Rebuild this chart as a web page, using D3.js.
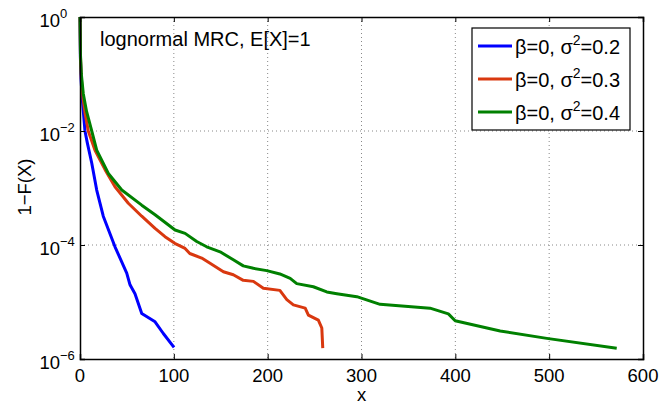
<!DOCTYPE html>
<html>
<head>
<meta charset="utf-8">
<script src="https://d3js.org/d3.v7.min.js"></script>
<style>
body { margin: 0; background: #fff; }
text { font-family: "Liberation Sans", Arial, Helvetica, sans-serif; }
</style>
</head>
<body>
<script>
// series: x and 1-F(x)
var blueX = [0, 0.4, 1.1, 2.5, 5.3, 7.8, 12.5, 17.8, 24.8, 37.3, 49.8, 53.3, 58.6, 65.8, 80, 88.8, 100.2];
var blueY = [1, 0.2, 0.08, 0.035, 0.01, 0.0062, 0.00275, 9.2e-4, 3.2e-4, 9.3e-5, 3.2e-5, 2.0e-5, 1.4e-5, 6.3e-6, 4.5e-6, 2.8e-6, 1.6e-6];

var redX = [0, 0.5, 1.3, 3, 5.5, 8.8, 16, 26.7, 37.3, 51.5, 65.8, 80, 90.6, 101, 112, 117, 129.7, 138.6, 152.8, 163.4, 174, 184.8, 195.4, 213, 220.4, 227.4, 240, 243.4, 254, 257.7, 258.7];
var redY = [1, 0.2, 0.09, 0.04, 0.02, 0.01, 4.6e-3, 2.1e-3, 1.05e-3, 5.4e-4, 3.2e-4, 1.96e-4, 1.4e-4, 1.07e-4, 8.7e-5, 7.1e-5, 5.9e-5, 4.8e-5, 3.4e-5, 3.0e-5, 2.4e-5, 2.3e-5, 1.75e-5, 1.6e-5, 1.1e-5, 8.9e-6, 7.8e-6, 5.9e-6, 4.8e-6, 3.5e-6, 1.55e-6];

var greenX = [0, 0.5, 1.4, 3.5, 7, 12.5, 17.8, 30.2, 44.5, 65.8, 80, 101.3, 112, 124.4, 135, 149.3, 163.4, 174, 184.8, 199, 213, 224, 231, 248.7, 263, 273.7, 295, 319.8, 373, 392.6, 399.8, 447.8, 497.5, 572];
var greenY = [1, 0.22, 0.1, 0.045, 0.022, 0.01, 4.6e-3, 1.8e-3, 9.2e-4, 5.0e-4, 3.4e-4, 1.83e-4, 1.6e-4, 1.15e-4, 9.3e-5, 7.6e-5, 5.5e-5, 4.3e-5, 3.9e-5, 3.55e-5, 3.1e-5, 2.6e-5, 2.1e-5, 1.85e-5, 1.5e-5, 1.4e-5, 1.24e-5, 9.1e-6, 7.8e-6, 6.2e-6, 4.7e-6, 3.1e-6, 2.3e-6, 1.55e-6];

var seriesNames = ["0.2", "0.3", "0.4"];
var seriesColors = ["#0000ff", "#d9380f", "#008000"];
var xTicks = [0, 100, 200, 300, 400, 500, 600];
var yTickExp = [0, -2, -4, -6];

var width = 660;
var height = 407;
var margin = {top: 17, right: 17, bottom: 48, left: 80};
var w = width - margin.left - margin.right;
var h = height - margin.top - margin.bottom;

var svg = d3.select("body")
	.append("svg")
	.attr("width", width)
	.attr("height", height);

var g = svg.append("g")
	.attr("transform", "translate(" + margin.left + "," + margin.top + ")");

var x = d3.scaleLinear().domain([0, 600]).range([0, w]);
var y = d3.scaleLog().domain([1e-6, 1]).range([h, 0]);

// dotted grid
g.selectAll(".gx")
	.data(xTicks.slice(1, -1))
	.enter().append("line")
	.attr("x1", d => x(d)).attr("x2", d => x(d))
	.attr("y1", 0).attr("y2", h)
	.attr("stroke", "#888")
	.attr("stroke-width", 1)
	.attr("stroke-dasharray", "1,3");

g.selectAll(".gy")
	.data(yTickExp.slice(1, -1))
	.enter().append("line")
	.attr("x1", 0).attr("x2", w)
	.attr("y1", d => y(Math.pow(10, d))).attr("y2", d => y(Math.pow(10, d)))
	.attr("stroke", "#888")
	.attr("stroke-width", 1)
	.attr("stroke-dasharray", "1,3");

// curves
var lineGen = d3.line()
	.x(d => x(d[0]))
	.y(d => y(d[1]));

var allSeries = [
	d3.zip(blueX, blueY),
	d3.zip(redX, redY),
	d3.zip(greenX, greenY)
];

allSeries.forEach(function (s, i) {
	g.append("path")
		.datum(s)
		.attr("d", lineGen)
		.attr("fill", "none")
		.attr("stroke", seriesColors[i])
		.attr("stroke-width", 3)
		.attr("stroke-linejoin", "round");
});

// axes with inward ticks, box all round
var yTickVals = yTickExp.map(e => Math.pow(10, e));

g.append("g")
	.attr("transform", "translate(0," + h + ")")
	.call(d3.axisBottom(x).tickValues(xTicks).tickSize(-5).tickFormat(""));
g.append("g")
	.call(d3.axisTop(x).tickValues(xTicks).tickSize(-5).tickFormat(""));
g.append("g")
	.call(d3.axisLeft(y).tickValues(yTickVals).tickSize(-5).tickFormat(""));
g.append("g")
	.attr("transform", "translate(" + w + ",0)")
	.call(d3.axisRight(y).tickValues(yTickVals).tickSize(-5).tickFormat(""));

g.selectAll(".domain").attr("stroke", "#000").attr("stroke-width", 1.5);
g.selectAll(".tick line").attr("stroke", "#000").attr("stroke-width", 1);

// tick labels
g.selectAll(".xl")
	.data(xTicks)
	.enter().append("text")
	.attr("x", d => x(d))
	.attr("y", h + 23)
	.attr("text-anchor", "middle")
	.attr("font-size", "18.5px")
	.text(d => d);

var yl = g.selectAll(".yl")
	.data(yTickExp)
	.enter().append("g")
	.attr("transform", d => "translate(0," + y(Math.pow(10, d)) + ")");
yl.append("text")
	.attr("x", -20)
	.attr("y", 9.5)
	.attr("text-anchor", "end")
	.attr("font-size", "18.5px")
	.text("10");
yl.append("text")
	.attr("x", -20)
	.attr("y", 0.5)
	.attr("font-size", "13px")
	.text(d => d === 0 ? "0" : "\u2212" + (-d));

// axis titles
svg.append("text")
	.attr("x", margin.left + x(300))
	.attr("y", 401)
	.attr("text-anchor", "middle")
	.attr("font-size", "18.5px")
	.text("x");

svg.append("text")
	.attr("transform", "translate(31,187)rotate(-90)")
	.attr("text-anchor", "middle")
	.attr("font-size", "18.5px")
	.text("1\u2212F(X)");

// annotation
g.append("text")
	.attr("x", 20)
	.attr("y", 29)
	.attr("font-size", "20px")
	.text("lognormal MRC, E[X]=1");

// legend
var leg = svg.append("g").attr("transform", "translate(472,28)");
leg.append("rect")
	.attr("width", 158)
	.attr("height", 102)
	.attr("fill", "#fff")
	.attr("stroke", "#000")
	.attr("stroke-width", 1.2);

var rows = leg.selectAll(".row")
	.data(seriesNames)
	.enter().append("g")
	.attr("transform", (d, i) => "translate(0," + (18 + i * 33) + ")");
rows.append("line")
	.attr("x1", 6).attr("x2", 40)
	.attr("y1", 0).attr("y2", 0)
	.attr("stroke", (d, i) => seriesColors[i])
	.attr("stroke-width", 3);
var lt = rows.append("text")
	.attr("x", 43)
	.attr("y", 8)
	.attr("font-size", "20px");
lt.append("tspan").text("\u03b2=0, \u03c3");
lt.append("tspan").attr("dy", -9).attr("font-size", "14px").text("2");
lt.append("tspan").attr("dy", 9).text(d => "=" + d);
</script>
</body>
</html>
